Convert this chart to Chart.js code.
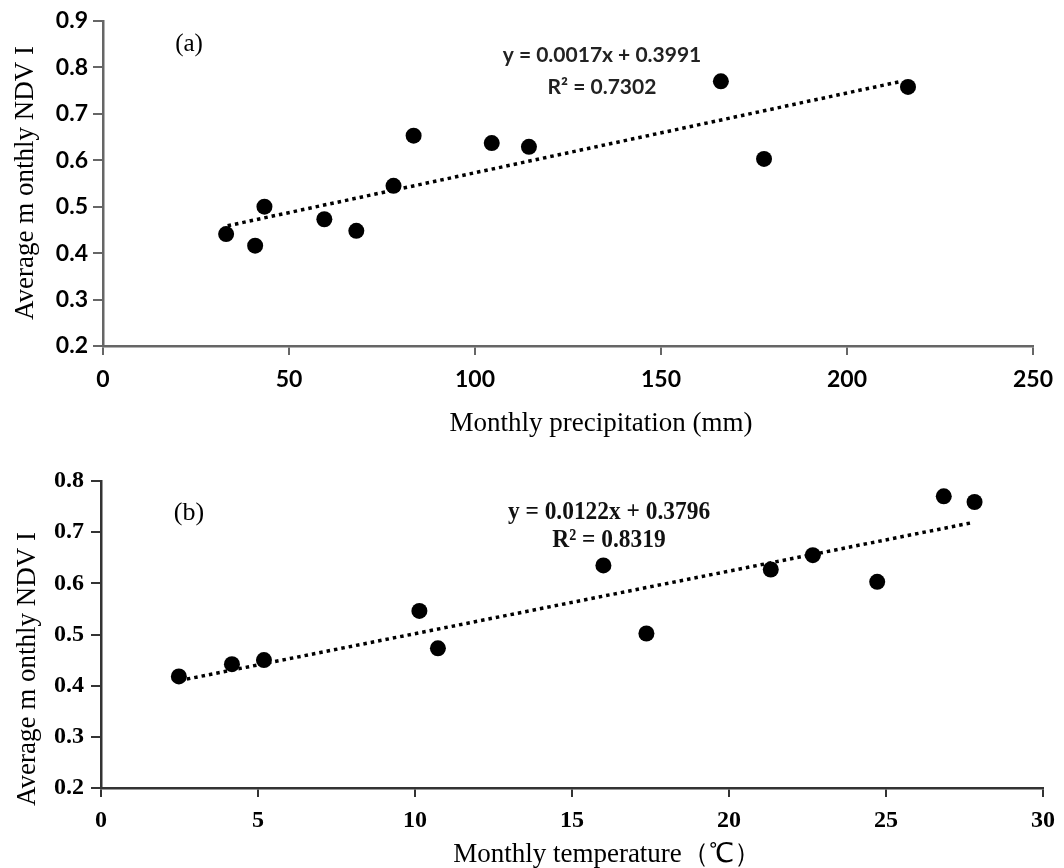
<!DOCTYPE html>
<html>
<head>
<meta charset="utf-8">
<script src="https://cdn.jsdelivr.net/npm/chart.js@4"></script>
<style>
  body { margin: 0; background: #fff; }
  #wrapA { position: absolute; left: 0; top: 0; width: 1064px; height: 450px; }
  #wrapB { position: absolute; left: 0; top: 450px; width: 1064px; height: 418px; }
</style>
</head>
<body>
<div id="wrapA"><canvas id="chartA"></canvas></div>
<div id="wrapB"><canvas id="chartB"></canvas></div>
<script>
// (a) monthly precipitation vs NDVI
var precip = [33.1, 40.9, 43.4, 59.5, 68.1, 78.1, 83.5, 104.5, 114.5, 166.1, 177.7, 216.4];
var ndviA = [0.441, 0.416, 0.500, 0.473, 0.448, 0.545, 0.653, 0.637, 0.629, 0.770, 0.603, 0.758];
var trendAx = [33.5, 214];
var trendAy = [0.459, 0.769];
var xTicksA = [0, 50, 100, 150, 200, 250];
var yTicksA = [0.2, 0.3, 0.4, 0.5, 0.6, 0.7, 0.8, 0.9];

// (b) monthly temperature vs NDVI
var temp = [2.48, 4.17, 5.19, 10.14, 10.73, 16.0, 17.37, 21.33, 22.67, 24.72, 26.84, 27.82];
var ndviB = [0.418, 0.442, 0.450, 0.546, 0.473, 0.635, 0.502, 0.627, 0.655, 0.603, 0.770, 0.759];
var trendBx = [2.5, 27.7];
var trendBy = [0.410, 0.718];
var xTicksB = [0, 5, 10, 15, 20, 25, 30];
var yTicksB = [0.2, 0.3, 0.4, 0.5, 0.6, 0.7, 0.8];

function pts(xs, ys) {
  var out = [];
  for (let i = 0; i < xs.length; i++) out.push({ x: xs[i], y: ys[i] });
  return out;
}

// draws free text (labels, equations, axis titles) on the canvas
function textPlugin(items) {
  return {
    id: 'texts',
    afterDraw: function (chart) {
      var ctx = chart.ctx;
      items.forEach(function (t) {
        ctx.save();
        ctx.translate(t.x, t.y);
        if (t.rot) ctx.rotate(t.rot);
        if (t.sx) ctx.scale(t.sx, 1);
        ctx.font = t.font;
        ctx.fillStyle = t.color || '#000';
        ctx.textAlign = 'center';
        ctx.textBaseline = 'middle';
        ctx.fillText(t.text, 0, 0);
        ctx.restore();
      });
    }
  };
}

function makeChart(id, o) {
  return new Chart(id, {
    type: 'scatter',
    data: {
      datasets: [{
        data: pts(o.trendX, o.trendY),
        showLine: true,
        borderColor: '#000',
        borderWidth: 3.5,
        borderDash: [3.5, 4],
        pointRadius: 0
      }, {
        data: pts(o.xs, o.ys),
        backgroundColor: '#000',
        borderWidth: 0,
        pointRadius: o.radius
      }]
    },
    options: {
      responsive: true,
      maintainAspectRatio: false,
      animation: false,
      layout: { padding: o.padding },
      plugins: { legend: { display: false }, tooltip: { enabled: false } },
      scales: {
        x: {
          type: 'linear',
          min: o.xTicks[0],
          max: o.xTicks[o.xTicks.length - 1],
          afterBuildTicks: function (s) { s.ticks = o.xTicks.map(function (v) { return { value: v }; }); },
          afterFit: function (s) { s.height = o.xHeight; },
          ticks: { font: o.tickFont, color: '#000', padding: o.xPad, maxRotation: 0 },
          grid: { display: true, drawOnChartArea: false, drawTicks: true, tickLength: 9, color: o.axisColor, lineWidth: 2 },
          border: { display: true, color: o.axisColor, width: 2.5 }
        },
        y: {
          type: 'linear',
          min: o.yTicks[0],
          max: o.yTicks[o.yTicks.length - 1],
          afterBuildTicks: function (s) { s.ticks = o.yTicks.map(function (v) { return { value: v }; }); },
          afterFit: function (s) { s.width = o.yWidth; },
          ticks: { font: o.tickFont, color: '#000', padding: o.yPad, callback: function (v) { return v.toFixed(1); } },
          grid: { display: true, drawOnChartArea: false, drawTicks: true, tickLength: 10, color: o.axisColor, lineWidth: 2 },
          border: { display: true, color: o.axisColor, width: 2.5 }
        }
      }
    },
    plugins: [textPlugin(o.texts)]
  });
}

makeChart('chartA', {
  xs: precip, ys: ndviA, trendX: trendAx, trendY: trendAy,
  xTicks: xTicksA, yTicks: yTicksA, radius: 8,
  padding: { left: 0, top: 21, right: 24, bottom: 0 },
  xHeight: 104, yWidth: 103, xPad: 11, yPad: 5,
  axisColor: '#666',
  tickFont: { family: 'Lato', weight: 'bold', size: 23 },
  texts: [
    { text: '(a)', x: 189, y: 44, font: '25px "Liberation Serif"' },
    { text: 'y = 0.0017x + 0.3991', x: 602, y: 55, font: 'bold 21px Lato', color: '#222' },
    { text: 'R² = 0.7302', x: 602, y: 87, font: 'bold 21px Lato', color: '#222' },
    { text: 'Monthly precipitation (mm)', x: 601, y: 424, font: '27px "Liberation Serif"', color: '#000' },
    { text: 'Average m onthly NDV I', x: 26, y: 183, rot: -Math.PI / 2, font: '27px "Liberation Serif"', color: '#000' }
  ]
});

makeChart('chartB', {
  xs: temp, ys: ndviB, trendX: trendBx, trendY: trendBy,
  xTicks: xTicksB, yTicks: yTicksB, radius: 8,
  padding: { left: 0, top: 31, right: 21, bottom: 0 },
  xHeight: 80, yWidth: 101, xPad: 9, yPad: 7,
  axisColor: '#333',
  tickFont: { family: 'Liberation Serif', weight: 'bold', size: 24 },
  texts: [
    { text: '(b)', x: 189, y: 63, font: '26px "Liberation Serif"' },
    { text: 'y = 0.0122x + 0.3796', x: 609, y: 62, font: 'bold 26px "Liberation Serif"', color: '#111', sx: 0.9 },
    { text: 'R² = 0.8319', x: 609, y: 90, font: 'bold 26px "Liberation Serif"', color: '#111', sx: 0.9 },
    { text: 'Monthly temperature（℃）', x: 607, y: 405, font: '27px "Liberation Serif"', color: '#000' },
    { text: 'Average m onthly NDV I', x: 28, y: 219, rot: -Math.PI / 2, font: '27px "Liberation Serif"', color: '#000' }
  ]
});
</script>
</body>
</html>
